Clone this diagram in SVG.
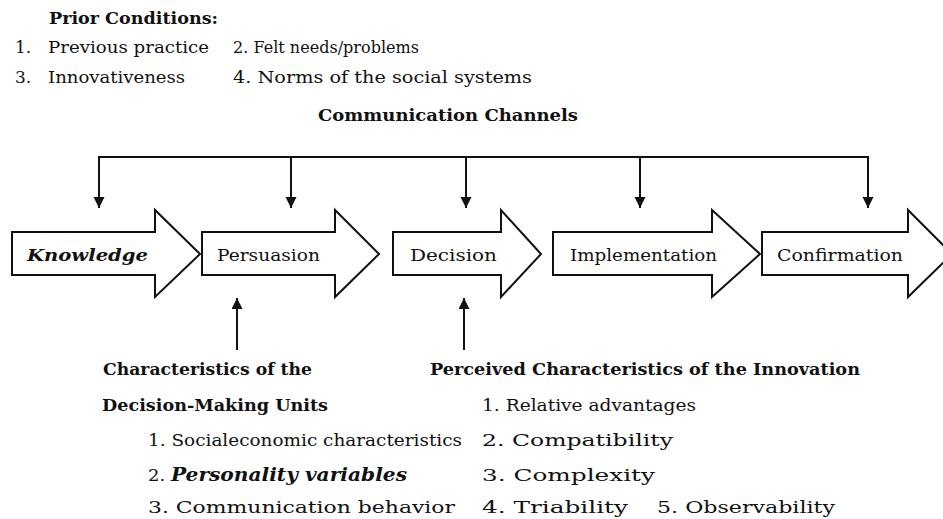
<svg xmlns="http://www.w3.org/2000/svg" width="943" height="519" viewBox="0 0 943 519">
<defs>
<marker id="ah" markerUnits="userSpaceOnUse" markerWidth="11" markerHeight="12" refX="11" refY="5.5" orient="auto">
<path d="M0,0 L11,5.5 L0,11 Z" fill="#111"/>
</marker>
<style>
.t{font-family:"DejaVu Serif","Liberation Serif",serif;font-size:17px;fill:#111}
.b{font-weight:bold}
.bi{font-weight:bold;font-style:italic}
.shape{fill:#fff;stroke:#111;stroke-width:2;stroke-linejoin:miter}
.ln{fill:none;stroke:#111;stroke-width:2}
</style>
</defs>
<rect width="943" height="519" fill="#fff"/>

<g id="prior">
<text class="t b" x="49" y="24" textLength="169" lengthAdjust="spacingAndGlyphs">Prior Conditions:</text>
<text class="t" x="15" y="53">1.</text>
<text class="t" x="48" y="53" textLength="161" lengthAdjust="spacingAndGlyphs">Previous practice</text>
<text class="t" x="233" y="53" textLength="186" lengthAdjust="spacingAndGlyphs">2. Felt needs/problems</text>
<text class="t" x="15" y="83">3.</text>
<text class="t" x="48" y="83" textLength="137" lengthAdjust="spacingAndGlyphs">Innovativeness</text>
<text class="t" x="233" y="83" textLength="299" lengthAdjust="spacingAndGlyphs">4. Norms of the social systems</text>
</g>

<g id="channels">
<text class="t b" x="318" y="121" textLength="260" lengthAdjust="spacingAndGlyphs">Communication Channels</text>
</g>

<g id="knowledge">
<path class="shape" d="M12,232 H155 V210 L200,254 L155,297 V275 H12 Z"/>
<text class="t bi" x="27" y="261" font-size="19" textLength="121" lengthAdjust="spacingAndGlyphs">Knowledge</text>
</g>
<g id="persuasion">
<path class="shape" d="M202,232 H335 V210 L379,254 L335,297 V275 H202 Z"/>
<text class="t" x="217" y="261" textLength="103" lengthAdjust="spacingAndGlyphs">Persuasion</text>
</g>
<g id="decision">
<path class="shape" d="M393,232 H501 V210 L541,254 L501,297 V275 H393 Z"/>
<text class="t" x="410" y="261" textLength="87" lengthAdjust="spacingAndGlyphs">Decision</text>
</g>
<g id="implementation">
<path class="shape" d="M553,232 H712 V210 L760,254 L712,297 V275 H553 Z"/>
<text class="t" x="570" y="261" textLength="147" lengthAdjust="spacingAndGlyphs">Implementation</text>
</g>
<g id="confirmation">
<path class="shape" d="M762,232 H908 V210 L952,254 L908,297 V275 H762 Z"/>
<text class="t" x="777" y="261" textLength="126" lengthAdjust="spacingAndGlyphs">Confirmation</text>
</g>

<g id="connectors">
<path class="ln" d="M99,157 H868"/>
<path class="ln" d="M99,156 V208" marker-end="url(#ah)"/>
<path class="ln" d="M291,157 V208" marker-end="url(#ah)"/>
<path class="ln" d="M466,157 V208" marker-end="url(#ah)"/>
<path class="ln" d="M640,157 V208" marker-end="url(#ah)"/>
<path class="ln" d="M868,156 V208" marker-end="url(#ah)"/>
<path class="ln" d="M237,350 V298" marker-end="url(#ah)"/>
<path class="ln" d="M464,350 V298" marker-end="url(#ah)"/>
</g>

<g id="units">
<text class="t b" x="103" y="375" textLength="209" lengthAdjust="spacingAndGlyphs">Characteristics of the</text>
<text class="t b" x="102" y="411" textLength="226" lengthAdjust="spacingAndGlyphs">Decision-Making Units</text>
<text class="t" x="148" y="446" textLength="314" lengthAdjust="spacingAndGlyphs">1. Socialeconomic characteristics</text>
<text class="t" x="148" y="481" textLength="259" lengthAdjust="spacingAndGlyphs">2. <tspan class="bi" font-size="19">Personality variables</tspan></text>
<text class="t" x="148" y="513" textLength="307" lengthAdjust="spacingAndGlyphs">3. Communication behavior</text>
</g>

<g id="innovation">
<text class="t b" x="430" y="375" textLength="430" lengthAdjust="spacingAndGlyphs">Perceived Characteristics of the Innovation</text>
<text class="t" x="482" y="411" textLength="214" lengthAdjust="spacingAndGlyphs">1. Relative advantages</text>
<text class="t" x="482" y="446" textLength="191" lengthAdjust="spacingAndGlyphs">2. Compatibility</text>
<text class="t" x="482" y="481" textLength="173" lengthAdjust="spacingAndGlyphs">3. Complexity</text>
<text class="t" x="482" y="513" textLength="146" lengthAdjust="spacingAndGlyphs">4. Triability</text>
<text class="t" x="657" y="513" textLength="178" lengthAdjust="spacingAndGlyphs">5. Observability</text>
</g>
</svg>
